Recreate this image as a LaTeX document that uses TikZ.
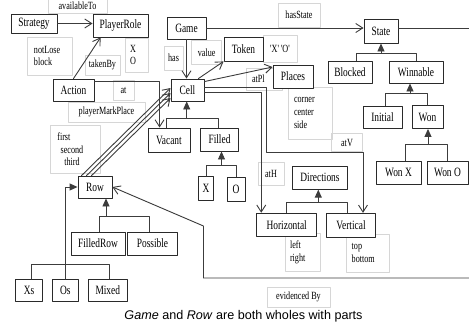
\documentclass[tikz,border=0pt]{standalone}
\usepackage{fontspec}
\usetikzlibrary{arrows.meta}
\usetikzlibrary{calc}
\usetikzlibrary{positioning}
\newfontfamily\dserif[FakeStretch=0.74]{Liberation Serif}
\newfontfamily\dsans{Liberation Sans}
\definecolor{boxline}{HTML}{2A2A2A}
\definecolor{edgeline}{HTML}{3C3C3C}
\definecolor{lblline}{HTML}{D6D6D6}

\begin{document}
\begin{tikzpicture}[>={Straight Barb[length=7pt,width=9pt]},x=1pt,y=-1pt
  ,line cap=round,line join=round
  ,box/.style={draw=boxline,line width=0.9pt,fill=white,inner sep=0pt
    ,minimum width=40,minimum height=22,font=\dserif\fontsize{12.7}{14}\selectfont}
  ,lbl/.style={draw=lblline,line width=0.8pt,inner sep=0pt,align=left
    ,font=\dserif\fontsize{11}{12.7}\selectfont}
  ,isa/.style={-{Triangle[length=8pt,width=7pt]}}]
\useasboundingbox (0,0) rectangle (469,324);

% role labels
\node[lbl,minimum width=59,minimum height=15] (lAvail) at (77.5,5.5) {availableTo};
\node[lbl,text width=31,inner xsep=7pt,minimum height=38] (lNotLose) at (49.5,56) {notLose\\block};
\node[lbl,text width=13,inner xsep=5pt,minimum height=34] (lXO) at (136.5,55) {X\\O};
\node[lbl,minimum width=35,minimum height=20] (lTakenBy) at (102.5,65) {takenBy};
\node[lbl,minimum width=21,minimum height=20] (lAt) at (123.5,90) {at};
\node[lbl,minimum width=77,minimum height=20] (lMark) at (106.5,112) {playerMarkPlace};
\node[lbl,text width=36,inner xsep=6.6pt,minimum height=48] (lRows) at (75.3,149.2)
  {first\\\hspace*{3.4pt}second\\\hspace*{7pt}third};
\node[lbl,minimum width=19,minimum height=24] (lHas) at (173.5,58) {has};
\node[lbl,minimum width=30,minimum height=24] (lValue) at (206.7,52.8) {value};
\node[lbl,minimum width=34,minimum height=27] (lTokVal) at (280,48.5) {'X' 'O'};
\node[lbl,minimum width=42,minimum height=24] (lHasState) at (299,15) {hasState};
\node[lbl,text width=24,inner xsep=6pt,minimum height=22] (lAtPl) at (264,79) {atPl};
\node[lbl,text width=32,inner xsep=6pt,minimum height=52] (lPlaces) at (310,113) {corner\\center\\side};
\node[lbl,minimum width=31,minimum height=18] (lAtV) at (347,142.5) {atV};
\node[lbl,minimum width=26,minimum height=23] (lAtH) at (271,173.5) {atH};
\node[lbl,text width=25,inner xsep=5pt,minimum height=38] (lLR) at (302.5,252.5) {left\\right};
\node[lbl,text width=32.6,inner xsep=5pt,minimum height=38.7] (lTB) at (368,253.3) {top\\bottom};
\node[lbl,minimum width=63,minimum height=20] (lEvid) at (298.5,297) {evidenced By};

% classes
\node[box,minimum width=46,minimum height=19] (Strategy) at (34,23.5) {Strategy};
\node[box,minimum width=55,minimum height=23] (PlayerRole) at (120.5,25.5) {PlayerRole};
\node[box,minimum width=41] (Action) at (73.5,90) {Action};
\node[box,minimum width=39] (Game) at (186.5,28) {Game};
\node[box,minimum width=33] (Cell) at (187.5,90) {Cell};
\node[box,minimum width=39,minimum height=24] (Token) at (243.5,49) {Token};
\node[box,minimum width=40,minimum height=23] (Places) at (293,76.5) {Places};
\node[box,minimum width=34,minimum height=24] (State) at (381,31) {State};
\node[box,minimum width=44] (Blocked) at (350,72) {Blocked};
\node[box,minimum width=54] (Winnable) at (416,72) {Winnable};
\node[box,minimum width=39] (Initial) at (382.5,117) {Initial};
\node[box,minimum width=31,minimum height=23] (Won) at (427.5,117) {Won};
\node[box,minimum width=45,minimum height=23] (WonX) at (398.5,172.5) {Won X};
\node[box,minimum width=41,minimum height=23] (WonO) at (447.5,172.5) {Won O};
\node[box,minimum width=42,minimum height=24] (Vacant) at (169,140) {Vacant};
\node[box,minimum width=38,minimum height=23] (Filled) at (219.5,139.5) {Filled};
\node[box,minimum width=15,minimum height=24] (X) at (206,188.5) {X};
\node[box,minimum width=18,minimum height=24] (O) at (236,189) {O};
\node[box,minimum width=34] (Row) at (95,187) {Row};
\node[box,minimum width=54,minimum height=23] (FilledRow) at (98,243.5) {FilledRow};
\node[box,minimum width=50,minimum height=23] (Possible) at (152.5,243.5) {Possible};
\node[box,minimum width=27] (Xs) at (29,290.5) {Xs};
\node[box,minimum width=26] (Os) at (65.3,290.5) {Os};
\node[box,minimum width=39] (Mixed) at (107.8,290.5) {Mixed};
\node[box,minimum width=55,minimum height=23] (Directions) at (320,177.7) {Directions};
\node[box,minimum width=60,minimum height=23] (Horizontal) at (286.7,224.7) {Horizontal};
\node[box,minimum width=49,minimum height=24] (Vertical) at (351,225.3) {Vertical};

\begin{scope}[color=edgeline,line width=0.9pt]
  % associations
  \draw[->] (Strategy.east) -- (Strategy.east -| PlayerRole.west);
  \draw[->] (Action.north) -- ($(PlayerRole.south west)+(8,0)$);
  \draw[->] ($(Action.north east)+(0,3)$) -| ($(Vacant.north west)+(12,0)$);
  \draw[->] (Game.south) -- (Game.south |- Cell.north);
  \draw[->] (Game.east) -- (Game.east -| State.west);
  \coordinate (stateOut) at (469,28);
  \draw (State.east |- stateOut) -- (stateOut);
  \draw[->] ($(Cell.north east)+(-6,0)$) -- (Token.south west);
  \draw[->] ($(Cell.north east)+(0,3)$) -- ($(Places.west)+(0,-9.5)$);
  \draw[->] ($(Cell.east)+(0,-3)$) -| ++(62,65) -| ($(Vertical.north)+(12,0)$);
  \draw[->] ($(Cell.east)+(0,2)$) -| ($(Horizontal.north west)+(5,0)$);
  \foreach \dx/\dy in {4/-2,9/3,14/8}
    \draw[->] ($(Row.north west)+(\dx,0)$) -- ($(Cell.west)+(0,\dy)$);
  \coordinate (evidOut) at (469,278);
  \draw[->] (evidOut) -| ($(Row.east)+(91,39)$) -- (Row.east);

  % generalizations
  \draw ($(Blocked.north)+(6,0)$) |- ($(State.south)+(0,9.5)$) -| (Winnable.north);
  \draw[isa] ($(State.south)+(0,9.5)$) -- (State.south);
  \draw ($(Initial.north)+(3,0)$) |- ($(Winnable.south)+(-6,10.3)$) -| (Won.north);
  \draw[isa] ($(Winnable.south)+(-6,10.3)$) -- ($(Winnable.south)+(-6,0)$);
  \draw ($(WonX.north)+(6.5,0)$) |- ($(Won.south)+(0.5,15)$) -| (WonO.north);
  \draw[isa] ($(Won.south)+(0.5,15)$) -- ($(Won.south)+(0.5,0)$);
  \draw ($(Vacant.north)+(-3,0)$) |- ($(Cell.south)+(-0.8,16.5)$) -| ($(Filled.north)+(-1.5,0)$);
  \draw[isa] ($(Cell.south)+(-0.8,16.5)$) -- ($(Cell.south)+(-0.8,0)$);
  \draw (X.north) |- ($(Filled.south)+(2,14)$) -| (O.north);
  \draw[isa] ($(Filled.south)+(2,14)$) -- ($(Filled.south)+(2,0)$);
  \draw ($(FilledRow.north)+(1,0)$) |- ($(Row.south)+(11,18)$) -| ($(Possible.north)+(-3.5,0)$);
  \draw[isa] ($(Row.south)+(11,18)$) -- ($(Row.south)+(11,0)$);
  \draw (Horizontal.north) |- ($(Directions.south)+(-1.7,12.4)$) -| ($(Vertical.north)+(-4,0)$);
  \draw[isa] ($(Directions.south)+(-1.7,12.4)$) -- ($(Directions.south)+(-1.7,0)$);
  \draw ($(Xs.north)+(2,0)$) |- ($(Os.north)+(0,-14.3)$) -| ($(Mixed.north)+(1.5,0)$);
  \draw[isa] (Os.north) |- (Row.west);
\end{scope}

\node[font=\dsans\fontsize{12.6}{14}\selectfont,anchor=base] (caption) at (243.5,319)
  {\textit{Game} and \textit{Row} are both wholes with parts};
\end{tikzpicture}
\end{document}
